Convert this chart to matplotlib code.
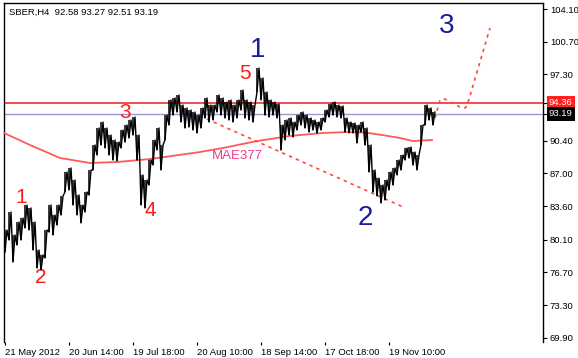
import matplotlib.pyplot as plt

# SBER H4 bars, sampled every 4 bars (high / low)
highs = [81.12, 82.99, 80.60, 81.95, 82.37, 83.72, 83.41, 81.95, 79.04, 78.52,
         81.12, 83.72, 82.68, 83.72, 84.66, 87.15, 87.57, 86.32, 84.76, 83.72,
         85.07, 87.36, 89.96, 91.73, 92.35, 91.73, 91.00, 90.48, 90.27, 91.52,
         92.04, 92.56, 92.87, 91.00, 86.84, 86.32, 88.40, 90.48, 91.73, 89.96,
         93.08, 94.64, 94.85, 95.16, 94.12, 93.81, 93.60, 93.39, 93.08, 93.81,
         94.85, 94.12, 94.12, 95.16, 94.85, 94.43, 94.64, 94.12, 94.64, 95.68,
         94.64, 94.43, 94.12, 97.97, 96.93, 95.47, 94.64, 94.43, 94.22, 92.04,
         92.56, 92.77, 92.35, 93.08, 93.39, 93.08, 92.77, 92.56, 92.35, 92.77,
         93.60, 94.22, 94.43, 94.12, 94.02, 92.77, 92.35, 92.25, 92.04, 92.35,
         91.73, 89.96, 87.36, 86.53, 85.80, 86.32, 87.15, 87.57, 88.40, 88.92,
         89.65, 89.75, 89.23, 88.92, 92.04, 94.12, 93.81, 93.39]
lows = [78.83, 80.08, 77.79, 79.56, 80.08, 81.33, 81.12, 79.04, 77.17, 76.96,
        78.21, 80.91, 80.60, 81.64, 82.68, 85.07, 85.28, 83.72, 82.68, 81.85,
        82.99, 84.76, 87.36, 88.92, 89.96, 89.65, 88.92, 88.40, 88.30, 89.65,
        90.27, 90.69, 91.00, 88.40, 83.72, 83.41, 85.80, 87.88, 89.44, 87.36,
        90.48, 92.04, 93.08, 93.39, 92.35, 91.73, 91.83, 91.52, 91.21, 91.73,
        92.77, 92.35, 92.56, 93.39, 93.08, 92.77, 92.56, 92.35, 92.77, 93.60,
        92.77, 92.56, 92.35, 95.47, 94.64, 93.08, 92.87, 93.08, 92.77, 89.44,
        90.48, 91.00, 90.79, 91.52, 92.04, 91.73, 91.31, 91.52, 91.21, 91.52,
        92.35, 92.87, 93.08, 92.87, 92.77, 91.31, 91.21, 91.21, 90.17, 91.31,
        89.96, 87.15, 85.07, 84.66, 83.93, 84.24, 85.28, 85.80, 86.84, 87.36,
        88.40, 88.61, 87.88, 87.36, 89.96, 92.04, 92.56, 92.04]
step = 4

# moving average MAE377 (bar index, value)
ma_bars = [-1, 25, 55, 85, 112, 145, 195, 218, 252, 285, 318, 342, 360, 377, 395, 408, 427]
ma_vals = [91.21, 89.96, 88.61, 88.09, 88.19, 88.50, 89.23, 89.65, 90.37, 90.90,
           91.21, 91.31, 91.26, 91.00, 90.69, 90.37, 90.48]

# trend line and wave projection
trend_bars = [195, 398]
trend_vals = [92.98, 83.52]
proj_bars = [430, 435, 440, 447, 455, 460, 462, 485]
proj_vals = [92.77, 94.64, 94.74, 94.33, 93.91, 93.81, 94.02, 102.13]

# wave labels
red_waves = ['1', '2', '3', '4', '5']
red_bars = [16, 36, 120, 145, 240]
red_vals = [84.55, 76.15, 93.30, 83.10, 97.35]
blue_waves = ['1', '2', '3']
blue_bars = [253, 360, 442]
blue_vals = [99.85, 82.35, 102.30]

resistance = 94.36
last_price = 93.19

ytick_vals = [104.10, 100.70, 97.30, 90.40, 87.00, 83.60, 80.10, 76.70, 73.30, 69.90]
xtick_bars = [0, 64, 128, 192, 256, 320, 384]
xtick_labels = ['21 May 2012', '20 Jun 14:00', '19 Jul 18:00', '20 Aug 10:00',
                '18 Sep 14:00', '17 Oct 18:00', '19 Nov 10:00']

plt.rcParams['font.family'] = ['Liberation Sans', 'DejaVu Sans']

fig = plt.figure(figsize=(5.78, 3.58), dpi=100)
ax = fig.add_axes([4 / 578, 16 / 358, 539 / 578, 339 / 358])
ax.set_xlim(-1, 538)
ax.set_ylim(69.47, 104.73)

# price bars
bars = [i * step for i in range(len(highs))]
ax.vlines(bars, lows, highs, color='black', lw=1.1, zorder=4)
zx, zy = [], []
for b, lo, hi in zip(bars, lows, highs):
    zx += [b, b + step / 2]
    zy += [lo, hi]
ax.plot(zx, zy, color='black', lw=1.0, zorder=4)

# horizontal levels
ax.axhline(resistance, color='#f03030', lw=1.2, zorder=2)
ax.axhline(last_price, color='#9a9ad0', lw=1.0, zorder=2)

# moving average
ax.plot(ma_bars, ma_vals, color='#ff5a5a', lw=1.3, zorder=3)
ax.text(207, 88.8, 'MAE377', color='#e8408a', fontsize=9.5, va='center')

# dotted lines
ax.plot(trend_bars, trend_vals, color='#ff4545', lw=1.2, ls=(0, (2, 2.5)), zorder=3)
ax.plot(proj_bars, proj_vals, color='#ff4545', lw=1.2, ls=(0, (2, 2.5)), zorder=3)

for t, b, v in zip(red_waves, red_bars, red_vals):
    ax.text(b, v, t, color='#ff1a1a', fontsize=15, ha='center', va='center')
for t, b, v in zip(blue_waves, blue_bars, blue_vals):
    ax.text(b, v, t, color='#1c1c9c', fontsize=20, ha='center', va='center')

ax.text(0.009, 0.972, 'SBER,H4  92.58 93.27 92.51 93.19', transform=ax.transAxes,
        fontsize=6.8, va='center', ha='left')

# axes styling
ax.yaxis.tick_right()
ax.set_yticks(ytick_vals + [resistance, last_price])
ax.set_yticklabels(['%.2f' % v for v in ytick_vals] + ['', ''])
ax.tick_params(axis='y', length=3, width=0.8, pad=2, labelsize=6.8)
ax.set_xticks(xtick_bars)
ax.set_xticklabels(xtick_labels, ha='left')
ax.tick_params(axis='x', length=2, width=0.8, pad=2, labelsize=6.8)
ax.spines['bottom'].set_visible(False)
for s in ['left', 'right', 'top']:
    ax.spines[s].set_linewidth(1)

ax.text(1.011, resistance, '%.2f' % resistance, transform=ax.get_yaxis_transform(),
        color='white', fontsize=6.8, va='center', ha='left',
        bbox=dict(boxstyle='square,pad=0.25', fc='#ff2020', ec='none'))
ax.text(1.011, last_price, '%.2f' % last_price, transform=ax.get_yaxis_transform(),
        color='white', fontsize=6.8, va='center', ha='left',
        bbox=dict(boxstyle='square,pad=0.25', fc='black', ec='none'))

fig.savefig('out.png', dpi=100)
